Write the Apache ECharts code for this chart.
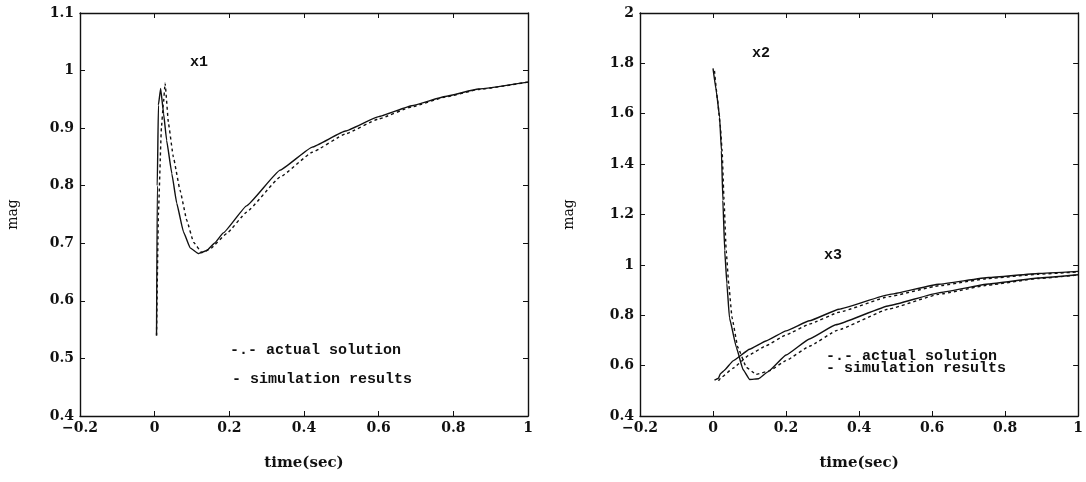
<!DOCTYPE html>
<html>
<head>
<meta charset="utf-8">
<script src="https://cdn.jsdelivr.net/npm/echarts@6/dist/echarts.min.js"></script>
<style>
  html, body { margin: 0; padding: 0; background: #fff; }
  #chart { width: 1086px; height: 482px; }
</style>
</head>
<body>
<div id="chart"></div>
<script>
// x1 response, [time, mag]
const x1Sim = [[0.005,0.54],[0.007,0.8],[0.01,0.94],[0.016,0.969],[0.024,0.925],[0.032,0.879],[0.046,0.821],[0.059,0.77],[0.077,0.72],[0.095,0.692],[0.117,0.682],[0.139,0.687],[0.16,0.7],[0.184,0.718],[0.246,0.765],[0.336,0.827],[0.422,0.867],[0.511,0.895],[0.6,0.92],[0.689,0.939],[0.778,0.955],[0.867,0.968],[1.0,0.98]];
const x1Act = [[0.005,0.54],[0.01,0.75],[0.018,0.9],[0.023,0.94],[0.028,0.978],[0.037,0.908],[0.05,0.85],[0.068,0.792],[0.086,0.74],[0.104,0.702],[0.126,0.684],[0.148,0.69],[0.193,0.717],[0.246,0.754],[0.336,0.815],[0.422,0.858],[0.511,0.89],[0.6,0.916],[0.689,0.937],[0.778,0.954],[0.867,0.967],[1.0,0.98]];

// x2 and x3 responses
const x2Sim = [[0,1.78],[0.009,1.69],[0.018,1.587],[0.023,1.454],[0.027,1.256],[0.032,1.057],[0.038,0.925],[0.045,0.79],[0.064,0.672],[0.082,0.585],[0.1,0.545],[0.125,0.548],[0.15,0.575],[0.2,0.642],[0.264,0.706],[0.336,0.762],[0.482,0.838],[0.618,0.889],[0.755,0.924],[0.891,0.948],[1.0,0.961]];
const x2Act = [[0.004,1.77],[0.012,1.66],[0.02,1.55],[0.025,1.45],[0.03,1.26],[0.036,1.057],[0.043,0.924],[0.052,0.791],[0.068,0.672],[0.091,0.594],[0.118,0.565],[0.155,0.58],[0.2,0.62],[0.264,0.677],[0.34,0.74],[0.482,0.825],[0.618,0.883],[0.755,0.92],[0.891,0.946],[1.0,0.96]];
const x3Sim = [[0.004,0.542],[0.015,0.55],[0.02,0.568],[0.03,0.58],[0.055,0.619],[0.1,0.665],[0.145,0.698],[0.2,0.738],[0.264,0.778],[0.345,0.824],[0.482,0.882],[0.618,0.923],[0.755,0.95],[0.891,0.966],[1.0,0.974]];
const x3Act = [[0.015,0.54],[0.022,0.552],[0.055,0.59],[0.1,0.643],[0.145,0.679],[0.2,0.722],[0.264,0.765],[0.345,0.812],[0.482,0.874],[0.618,0.917],[0.755,0.946],[0.891,0.963],[1.0,0.972]];

const xTicks = { min: -0.2, max: 1, interval: 0.2 };
const yLeft = { min: 0.4, max: 1.1, interval: 0.1 };
const yRight = { min: 0.4, max: 2, interval: 0.2 };

const ink = "#111";
const serif = "DejaVu Serif";
const mono = "Liberation Mono";

function fmt(v) {
  const r = Math.round(v * 10) / 10;
  return r < 0 ? "\u2212" + (-r) : String(r);
}

function xAxis(grid, range, main) {
  return {
    type: "value",
    gridIndex: grid,
    position: main ? "bottom" : "top",
    min: range.min, max: range.max, interval: range.interval,
    name: main ? "time(sec)" : "",
    nameLocation: "middle",
    nameGap: 40,
    nameTextStyle: { fontFamily: serif, fontWeight: "bold", fontSize: 15, color: ink },
    axisLine: { onZero: false, lineStyle: { color: ink, width: 1.4 } },
    axisTick: { show: true, inside: true, length: 5, lineStyle: { color: ink } },
    axisLabel: { show: main, formatter: fmt, margin: 5, fontFamily: serif, fontWeight: "bold", fontSize: 14, color: ink },
    splitLine: { show: false }
  };
}

function yAxis(grid, range, main, gap) {
  return {
    type: "value",
    gridIndex: grid,
    position: main ? "left" : "right",
    min: range.min, max: range.max, interval: range.interval,
    name: main ? "mag" : "",
    nameLocation: "middle",
    nameRotate: 90,
    nameGap: gap,
    nameTextStyle: { fontFamily: serif, fontSize: 14, color: ink },
    axisLine: { onZero: false, lineStyle: { color: ink, width: 1.4 } },
    axisTick: { show: true, inside: true, length: 5, lineStyle: { color: ink } },
    axisLabel: { show: main, formatter: fmt, margin: 6, fontFamily: serif, fontWeight: "bold", fontSize: 14, color: ink },
    splitLine: { show: false }
  };
}

function line(data, xi, yi, dashed) {
  return {
    type: "line",
    xAxisIndex: xi,
    yAxisIndex: yi,
    data: data,
    showSymbol: false,
    smooth: 0.1,
    smoothMonotone: "x",
    silent: true,
    lineStyle: { color: ink, width: 1.4, type: dashed ? [3, 3] : "solid" }
  };
}

function label(text, x, y) {
  return {
    type: "text",
    x: x, y: y,
    style: { text: text, fill: ink, font: "bold 15px '" + mono + "'", textVerticalAlign: "middle" }
  };
}

const chart = echarts.init(document.getElementById("chart"));
chart.setOption({
  backgroundColor: "#fff",
  animation: false,
  grid: [
    { left: 80, top: 13, width: 448, height: 403 },
    { left: 640, top: 13, width: 440, height: 403 }
  ],
  xAxis: [
    xAxis(0, xTicks, true), xAxis(0, xTicks, false),
    xAxis(1, xTicks, true), xAxis(1, xTicks, false)
  ],
  yAxis: [
    yAxis(0, yLeft, true, 60), yAxis(0, yLeft, false, 0),
    yAxis(1, yRight, true, 64), yAxis(1, yRight, false, 0)
  ],
  series: [
    line(x1Act, 0, 0, true), line(x1Sim, 0, 0, false),
    line(x2Act, 2, 2, true), line(x2Sim, 2, 2, false),
    line(x3Act, 2, 2, true), line(x3Sim, 2, 2, false)
  ],
  graphic: [
    label("x1", 190, 62),
    label("x2", 752, 53),
    label("x3", 824, 255),
    label("-.- actual solution", 230, 350),
    label("- simulation results", 232, 379),
    label("-.- actual solution", 826, 356),
    label("- simulation results", 826, 368)
  ]
});
</script>
</body>
</html>
